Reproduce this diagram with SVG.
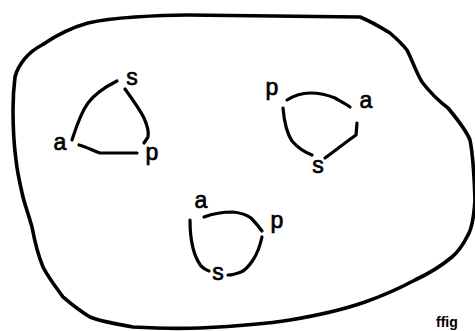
<svg xmlns="http://www.w3.org/2000/svg" width="475" height="331" viewBox="0 0 475 331">
<style>
.lbl{font-family:"Liberation Sans",Arial,sans-serif;font-size:23px;fill:#000;text-anchor:middle;stroke:#000;stroke-width:0.7}
.arc{fill:none;stroke:#000;stroke-width:3.2;stroke-linecap:round;stroke-linejoin:round}
.blob{fill:none;stroke:#000;stroke-width:3.6;stroke-linejoin:round}
.fig{font-family:"Liberation Sans",Arial,sans-serif;font-size:14px;font-weight:bold;fill:#000}
</style>
<rect width="475" height="331" fill="#fff"/>
<g id="outline">
<path class="blob" d="M15,77 C18,65 28,52 42,45 C55,36 70,28 88,23 C105,19 120,18 135,17 C150,16 170,15 187,15 L360,17 C372,22 382,28 390,33 C398,40 403,45 407,50 C413,62 416,72 422,82 C432,95 440,102 448,108 C458,120 466,130 470,140 C473,155 474,170 475,200 C474,215 472,228 468,235 C463,245 458,252 452,257 C440,267 430,273 415,280 C400,288 385,295 365,302 C345,309 320,315 290,320 C265,324 240,326 200,328 C175,329 150,328 133,327 C115,324 100,321 90,317 C78,310 70,303 63,297 C55,286 48,277 43,267 C38,255 35,243 32,227 C28,213 25,205 23,197 C19,180 17,170 16,160 C14,145 13,130 13,110 C13,95 14,85 15,77 Z"/>
</g>
<g id="connectors">
<path class="arc" d="M117,81 C105,87 94,95 88,103 C80,114 76,128 72,140"/>
<path class="arc" d="M125,89 C133,100 140,110 144,118 C148,127 149,132 148,137 L144,143"/>
<path class="arc" d="M79,145 C86,147 92,150 100,153 L137,153"/>
<path class="arc" d="M287,100 C295,95 302,93 310,93 C320,93 328,95 335,98 C342,102 346,104 350,107"/>
<path class="arc" d="M283,108 C284,120 286,132 292,141 C298,148 304,152 312,155"/>
<path class="arc" d="M357,123 L356,135 C346,142 336,150 325,158"/>
<path class="arc" d="M204,217 C212,214 220,212 233,212 C242,213 247,215 251,218 C256,223 259,227 262,231"/>
<path class="arc" d="M190,220 C190,230 191,240 193,248 C195,256 198,262 201,266 C204,269 206,270 209,271"/>
<path class="arc" d="M262,237 C260,246 257,254 253,260 C249,266 246,270 241,272 C236,274 232,275 228,275"/>
</g>
<g id="t1-s"><text class="lbl" x="132" y="85">s</text></g>
<g id="t1-a"><text class="lbl" x="60" y="150">a</text></g>
<g id="t1-p"><text class="lbl" x="152" y="160">p</text></g>
<g id="t2-p"><text class="lbl" x="272" y="95">p</text></g>
<g id="t2-a"><text class="lbl" x="366" y="108">a</text></g>
<g id="t2-s"><text class="lbl" x="318" y="173">s</text></g>
<g id="t3-a"><text class="lbl" x="201" y="208">a</text></g>
<g id="t3-p"><text class="lbl" x="277" y="228">p</text></g>
<g id="t3-s"><text class="lbl" x="218" y="280">s</text></g>
<g id="caption"><text class="fig" x="436" y="327">ffig</text></g>
</svg>
